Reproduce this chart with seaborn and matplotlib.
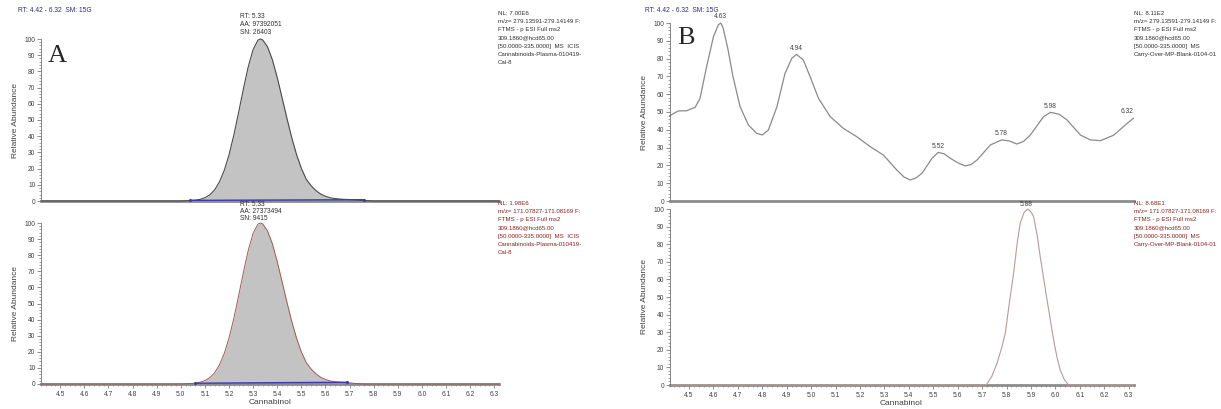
import matplotlib
matplotlib.use("Agg")
import matplotlib.pyplot as plt
import seaborn as sns
from matplotlib.ticker import MultipleLocator
from matplotlib import font_manager

# ---- data ----
rt_range = (4.42, 6.32)

# panel A, m/z 279 trace (top)
a_top_rt = [4.42, 5.00, 5.04, 5.06, 5.08, 5.10, 5.12, 5.14, 5.16, 5.18, 5.20, 5.22,
            5.24, 5.26, 5.28, 5.30, 5.32, 5.33, 5.34, 5.36, 5.38, 5.40, 5.42, 5.44,
            5.46, 5.48, 5.50, 5.52, 5.54, 5.56, 5.58, 5.60, 5.62, 5.64, 5.66, 5.68,
            5.70, 5.72, 5.74, 5.76, 5.80, 6.32]
a_top_val = [0, 0, 0.3, 0.5, 1.0, 2.0, 3.8, 6.8, 11.7, 18.8, 28.5, 40.7,
             54.8, 69.5, 83.0, 93.5, 99.3, 100, 99.4, 95.1, 87.1, 76.2, 63.8, 51.2,
             39.2, 28.7, 20.2, 13.5, 9.5, 6.5, 4.3, 2.9, 2.0, 1.5, 1.2, 1.0,
             0.9, 0.7, 0.5, 0.3, 0, 0]

# panel A, m/z 171 trace (bottom)
a_bot_rt = [4.42, 5.00, 5.04, 5.06, 5.08, 5.10, 5.12, 5.14, 5.16, 5.18, 5.20, 5.22,
            5.24, 5.26, 5.28, 5.30, 5.32, 5.33, 5.34, 5.36, 5.38, 5.40, 5.42, 5.44,
            5.46, 5.48, 5.50, 5.52, 5.54, 5.56, 5.58, 5.60, 5.62, 5.64, 5.66, 5.68,
            5.70, 5.72, 5.76, 6.32]
a_bot_val = [0, 0, 0.3, 0.5, 1.1, 2.1, 3.9, 6.9, 11.8, 18.9, 28.6, 40.8,
             54.9, 69.6, 83.1, 93.6, 99.3, 100, 99.4, 95.0, 87.0, 76.0, 63.6, 51.0,
             39.0, 28.5, 20.0, 13.4, 9.4, 6.4, 4.2, 2.8, 1.9, 1.4, 1.1, 0.9,
             0.7, 0.4, 0, 0]

# integration baselines (blue)
a_top_base_rt = [5.04, 5.76]
a_top_base_val = [0.4, 0.8]
a_bot_base_rt = [5.06, 5.69]
a_bot_base_val = [0.5, 1.1]

# panel B, m/z 279 trace (top)
b_top_rt = [4.42, 4.456, 4.49, 4.525, 4.545, 4.572, 4.60, 4.62, 4.63, 4.64, 4.66,
            4.68, 4.709, 4.743, 4.777, 4.80, 4.825, 4.86, 4.893, 4.921, 4.94,
            4.968, 4.996, 5.03, 5.078, 5.132, 5.187, 5.242, 5.296, 5.351, 5.38,
            5.406, 5.43, 5.454, 5.495, 5.52, 5.545, 5.57, 5.60, 5.631, 5.655,
            5.679, 5.734, 5.78, 5.81, 5.843, 5.87, 5.897, 5.952, 5.98, 6.015,
            6.048, 6.103, 6.144, 6.185, 6.239, 6.294, 6.32]
b_top_val = [47.9, 50.6, 50.7, 52.6, 57.7, 75.5, 92.3, 99.0, 100, 97.0, 84.8,
             69.8, 53.0, 42.7, 38.0, 37.1, 39.9, 53.0, 71.7, 80.2, 82.4,
             79.2, 69.8, 57.7, 47.4, 40.8, 36.1, 30.5, 25.8, 17.4, 13.5,
             11.8, 13.0, 15.6, 24.0, 27.3, 26.5, 24.0, 21.5, 19.7, 20.5,
             23.0, 31.5, 34.3, 33.8, 32.0, 33.5, 37.0, 47.4, 49.8, 48.8,
             45.5, 37.0, 34.3, 33.9, 37.0, 43.6, 46.5]
b_top_peak_rt = [4.63, 4.94, 5.52, 5.78, 5.98, 6.32]
b_top_peak_val = [100, 82.4, 27.3, 34.3, 49.8, 46.5]
b_top_peak_lbl = ["4.63", "4.94", "5.52", "5.78", "5.98", "6.32"]

# panel B, m/z 171 trace (bottom)
b_bot_rt = [4.42, 5.717, 5.74, 5.761, 5.78, 5.795, 5.81, 5.829, 5.845, 5.856,
            5.872, 5.886, 5.90, 5.911, 5.925, 5.938, 5.952, 5.966, 5.98, 5.993,
            6.007, 6.02, 6.037, 6.054, 6.32]
b_bot_val = [0, 0, 5.0, 12.3, 21.0, 29.4, 45.0, 63.5, 82.0, 91.9,
             98.0, 100, 98.5, 95.6, 85.5, 72.9, 60.5, 48.3, 36.5, 25.6,
             15.5, 8.5, 3.0, 0, 0]
b_bot_peak_rt = [5.88]
b_bot_peak_val = [100]
b_bot_peak_lbl = ["5.88"]

header = "RT: 4.42 - 6.32  SM: 15G"
a_top_info = "RT: 5.33\nAA: 97392051\nSN: 26403"
a_bot_info = "RT: 5.33\nAA: 27373494\nSN: 9415"
a_top_nl = ("NL: 7.00E6\nm/z= 279.13591-279.14149 F:\nFTMS - p ESI Full ms2\n"
            "309.1860@hcd65.00\n[50.0000-335.0000]  MS  ICIS\n"
            "Cannabinoids-Plasma-010419-\nCal-8")
a_bot_nl = ("NL: 1.98E6\nm/z= 171.07827-171.08169 F:\nFTMS - p ESI Full ms2\n"
            "309.1860@hcd65.00\n[50.0000-335.0000]  MS  ICIS\n"
            "Cannabinoids-Plasma-010419-\nCal-8")
b_top_nl = ("NL: 8.11E2\nm/z= 279.13591-279.14149 F:\nFTMS - p ESI Full ms2\n"
            "309.1860@hcd65.00\n[50.0000-335.0000]  MS\nCarry-Over-MP-Blank-0104-01")
b_bot_nl = ("NL: 8.68E1\nm/z= 171.07827-171.08169 F:\nFTMS - p ESI Full ms2\n"
            "309.1860@hcd65.00\n[50.0000-335.0000]  MS\nCarry-Over-MP-Blank-0104-01")

# ---- style ----
sns.set_style("ticks")
installed = {f.name for f in font_manager.fontManager.ttflist}
narrow = 'Liberation Sans Narrow' if 'Liberation Sans Narrow' in installed else 'Liberation Sans'
plt.rcParams['font.family'] = [narrow, 'DejaVu Sans']
small = 5.5 if narrow.endswith('Narrow') else 4.8
info = 5.0 if narrow.endswith('Narrow') else 4.4

W, H = 1221, 409
fig = plt.figure(figsize=(W / 100, H / 100), dpi=100)


def px(x, y):
    return x / W, 1 - y / H


def make_axes(left, right, top, bottom, show_x):
    x0, y0 = px(left, bottom)
    ax = fig.add_axes([x0, y0, (right - left) / W, (bottom - top) / H])
    ax.set_xlim(*rt_range)
    ax.set_ylim(0, 100)
    for s in ['top', 'right']:
        ax.spines[s].set_visible(False)
    ax.spines['left'].set_color('#707070')
    ax.spines['left'].set_linewidth(0.6)
    ax.spines['bottom'].set_color('#8c8c8c')
    ax.spines['bottom'].set_linewidth(2.0)
    ax.spines['bottom'].set_zorder(1.5)
    ax.yaxis.set_major_locator(MultipleLocator(10))
    ax.yaxis.set_minor_locator(MultipleLocator(2))
    ax.tick_params(axis='y', which='major', length=3, width=0.5, color='#606060',
                   labelsize=small, labelcolor='#404040', pad=1)
    ax.tick_params(axis='y', which='minor', length=1.5, width=0.4, color='#606060')
    if show_x:
        ax.xaxis.set_major_locator(MultipleLocator(0.1))
        ax.xaxis.set_minor_locator(MultipleLocator(0.02))
        ax.tick_params(axis='x', which='major', length=3, width=0.5, color='#606060',
                       labelsize=small, labelcolor='#404040', pad=2)
        ax.tick_params(axis='x', which='minor', length=1.5, width=0.4, color='#606060')
        ax.xaxis.set_major_formatter(plt.FuncFormatter(lambda v, p: f"{v:.1f}"))
        ax.set_xlabel("Cannabinol", fontsize=6, color='#404040', labelpad=1)
    else:
        ax.set_xticks([])
        ax.set_xlabel("")
    ax.set_ylabel("Relative Abundance", fontsize=6, color='#404040', labelpad=4)
    return ax


ax_at = make_axes(41, 499, 39, 201, False)
ax_ab = make_axes(41, 499, 223, 384, True)
ax_bt = make_axes(669.5, 1133.5, 23, 201, False)
ax_bb = make_axes(669.5, 1133.5, 209, 385, True)

# panel A peaks, filled
ax_at.fill_between(a_top_rt, a_top_val, 0, color='#c3c3c3', lw=0, clip_on=False)
sns.lineplot(x=a_top_rt, y=a_top_val, ax=ax_at, color='#4a4a4a', lw=0.8, clip_on=False)
sns.lineplot(x=a_top_base_rt, y=a_top_base_val, ax=ax_at, color='#3b3bb0', lw=1.0,
             marker='o', markersize=2.2, markeredgewidth=0, clip_on=False, zorder=5)

ax_ab.fill_between(a_bot_rt, a_bot_val, 0, color='#c3c3c3', lw=0, clip_on=False)
sns.lineplot(x=a_bot_rt, y=a_bot_val, ax=ax_ab, color='#a05a5a', lw=0.7, clip_on=False)
sns.lineplot(x=a_bot_base_rt, y=a_bot_base_val, ax=ax_ab, color='#3b3bb0', lw=1.0,
             marker='o', markersize=2.2, markeredgewidth=0, clip_on=False, zorder=5)

# panel B traces
sns.lineplot(x=b_top_rt, y=b_top_val, ax=ax_bt, color='#8a8a8a', lw=0.9, clip_on=False)
sns.lineplot(x=b_bot_rt, y=b_bot_val, ax=ax_bb, color='#b89a9a', lw=0.8, clip_on=False)

for r, v, t in zip(b_top_peak_rt, b_top_peak_val, b_top_peak_lbl):
    ha = 'right' if r >= 6.3 else 'center'
    ax_bt.annotate(t, xy=(r, v), xytext=(0, 2), textcoords='offset points',
                   ha=ha, va='bottom', fontsize=small, color='#404040')
for r, v, t in zip(b_bot_peak_rt, b_bot_peak_val, b_bot_peak_lbl):
    ax_bb.annotate(t, xy=(r, v), xytext=(0, 1), textcoords='offset points',
                   ha='center', va='bottom', fontsize=small, color='#404040')

# header, panel letters and info text
for x in (18, 645):
    fig.text(*px(x, 10), header, fontsize=small, color='#2e2e6e', va='center')
fig.text(*px(48, 56), "A", fontsize=19, family=['Liberation Serif'], va='center')
fig.text(*px(677, 38), "B", fontsize=19, family=['Liberation Serif'], va='center')

fig.text(*px(240, 13), a_top_info, fontsize=small, color='#303030', va='top',
         linespacing=1.15)
fig.text(*px(240, 201), a_bot_info, fontsize=small, color='#303030', va='top',
         linespacing=1.0)

fig.text(*px(498, 11), a_top_nl, fontsize=info, color='#303030', va='top',
         linespacing=1.8)
fig.text(*px(498, 201), a_bot_nl, fontsize=info, color='#8a2020', va='top',
         linespacing=1.8)
fig.text(*px(1134, 11), b_top_nl, fontsize=info, color='#303030', va='top',
         linespacing=1.8)
fig.text(*px(1134, 201), b_bot_nl, fontsize=info, color='#8a2020', va='top',
         linespacing=1.8)

fig.savefig("out.png", dpi=100, facecolor='white')
